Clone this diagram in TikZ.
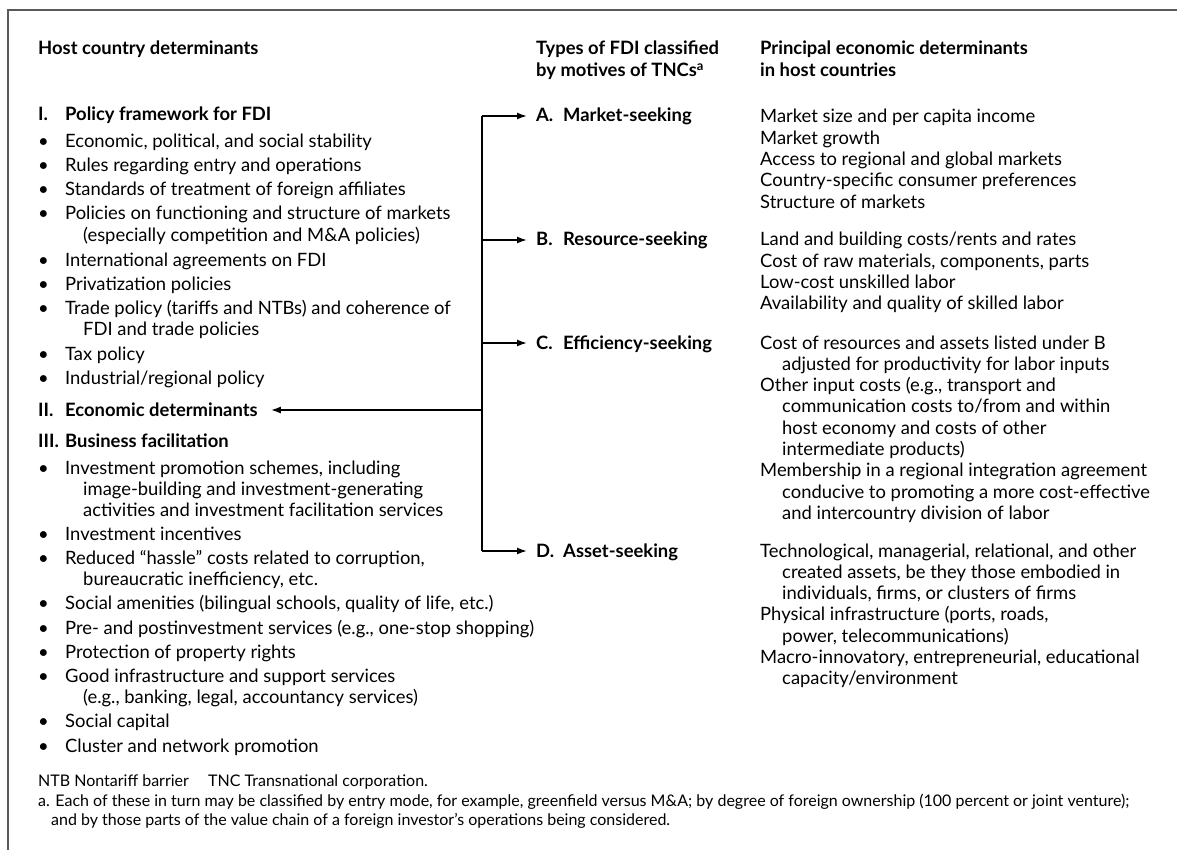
\documentclass[tikz,border=0pt]{standalone}
\usepackage{fontspec}
\setmainfont{Lato}
\usetikzlibrary{arrows.meta}
\newcommand{\bodysize}{\fontsize{18.4}{21.3}\selectfont}
\newcommand{\notesize}{\fontsize{16}{19.5}\selectfont}
\newcommand{\bul}{\makebox[27pt][l]{\textbullet}}
\newcommand{\lab}[1]{\makebox[27pt][l]{#1}}
\newcommand{\ind}{\hspace*{45pt}}
\newcommand{\rin}{\hspace*{22pt}}
\newcommand{\rows}[1]{\begin{tabular}[t]{@{}l@{}}#1\end{tabular}}
\begin{document}
\begin{tikzpicture}[x=1pt,y=-1pt]
\tikzset{txt/.style={anchor=base west, inner sep=0pt, font=\bodysize},
 hd/.style={txt, font=\bodysize\bfseries},
 note/.style={txt, font=\notesize},
 flow/.style={line width=1.6pt, -{Latex[length=10pt,width=7pt]}}}
\useasboundingbox (0,0) rectangle (1177,850);
\draw[line width=1.8pt, black!65] (8,850) -- (8,10) -- (1177,10);
% column heads
\node[hd] (hhost) at (38,55) {Host country determinants};
\node[hd] (htype) at (536,55) {\rows{Types of FDI classified\\by motives of TNCs\textsuperscript{a}}};
\node[hd] (hprin) at (760,55) {\rows{Principal economic determinants\\in host countries}};
% host country determinants
\node[hd] (pol) at (38,121) {\lab{I.}Policy framework for FDI};
\node[txt] (p1) at (38,148) {\bul Economic, political, and social stability};
\node[txt] (p2) at (38,172) {\bul Rules regarding entry and operations};
\node[txt] (p3) at (38,196) {\bul Standards of treatment of foreign affiliates};
\node[txt] (p4) at (38,220) {\rows{\bul Policies on functioning and structure of markets\\\ind(especially competition and M\&A policies)}};
\node[txt] (p5) at (38,266) {\bul International agreements on FDI};
\node[txt] (p6) at (38,290) {\bul Privatization policies};
\node[txt] (p7) at (38,314) {\rows{\bul Trade policy (tariffs and NTBs) and coherence of\\\ind FDI and trade policies}};
\node[txt] (p8) at (38,360) {\bul Tax policy};
\node[txt] (p9) at (38,384) {\bul Industrial/regional policy};
\node[hd] (econ) at (38,416) {\lab{II.}Economic determinants};
\node[hd] (bus) at (38,447) {\lab{III.}Business facilitation};
\node[txt] (b1) at (38,474) {\rows{\bul Investment promotion schemes, including\\\ind image-building and investment-generating\\\ind activities and investment facilitation services}};
\node[txt] (b2) at (38,540) {\bul Investment incentives};
\node[txt] (b3) at (38,564) {\rows{\bul Reduced “hassle” costs related to corruption,\\\ind bureaucratic inefficiency, etc.}};
\node[txt] (b4) at (38,609) {\bul Social amenities (bilingual schools, quality of life, etc.)};
\node[txt] (b5) at (38,634) {\bul Pre- and postinvestment services (e.g., one-stop shopping)};
\node[txt] (b6) at (38,658) {\bul Protection of property rights};
\node[txt] (b7) at (38,682) {\rows{\bul Good infrastructure and support services\\\ind(e.g., banking, legal, accountancy services)}};
\node[txt] (b8) at (38,727) {\bul Social capital};
\node[txt] (b9) at (38,752) {\bul Cluster and network promotion};
% types of FDI
\node[hd] (mA) at (536,122) {\lab{A.}Market-seeking};
\node[hd] (mB) at (536,246) {\lab{B.}Resource-seeking};
\node[hd] (mC) at (536,349) {\lab{C.}Efficiency-seeking};
\node[hd] (mD) at (536,557) {\lab{D.}Asset-seeking};
% principal determinants
\node[txt] (dA) at (760,123) {\rows{Market size and per capita income\\Market growth\\Access to regional and global markets\\Country-specific consumer preferences\\Structure of markets}};
\node[txt] (dB) at (760,246) {\rows{Land and building costs/rents and rates\\Cost of raw materials, components, parts\\Low-cost unskilled labor\\Availability and quality of skilled labor}};
\node[txt] (dC) at (760,349) {\rows{Cost of resources and assets listed under B\\\rin adjusted for productivity for labor inputs\\Other input costs (e.g., transport and\\\rin communication costs to/from and within\\\rin host economy and costs of other\\\rin intermediate products)\\Membership in a regional integration agreement\\\rin conducive to promoting a more cost-effective\\\rin and intercountry division of labor}};
\node[txt] (dD) at (760,557) {\rows{Technological, managerial, relational, and other\\\rin created assets, be they those embodied in\\\rin individuals, firms, or clusters of firms\\Physical infrastructure (ports, roads,\\\rin power, telecommunications)\\Macro-innovatory, entrepreneurial, educational\\\rin capacity/environment}};
% connectors
\coordinate (jA) at (482,116);
\coordinate (jD) at (482,551);
\draw[line width=1.6pt] (jA) -- (jD);
\draw[flow, shorten >=9pt] (jA) -- (jA -| mA.west);
\draw[flow, shorten >=9pt] (482,240) -- (482,240 -| mB.west);
\draw[flow, shorten >=9pt] (482,343) -- (482,343 -| mC.west);
\draw[flow, shorten >=9pt] (jD) -- (jD -| mD.west);
\draw[flow, shorten >=13pt] (482,410) -- (482,410 -| econ.east);
% notes
\node[note] (n1) at (38,786) {NTB Nontariff barrier};
\node[note] (n2) at (208,786) {TNC Transnational corporation.};
\node[note] (n3) at (38,806) {\rows{a. Each of these in turn may be classified by entry mode, for example, greenfield versus M\&A; by degree of foreign ownership (100 percent or joint venture);\\\hspace*{13pt}and by those parts of the value chain of a foreign investor’s operations being considered.}};
\end{tikzpicture}
\end{document}
